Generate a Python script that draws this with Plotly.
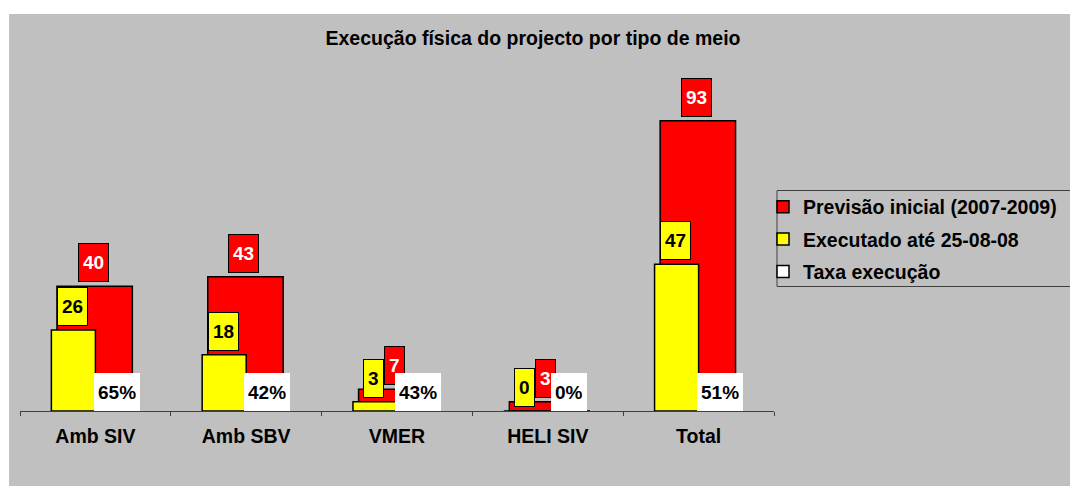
import plotly.graph_objects as go

# ---- data ----
categories = ["Amb SIV", "Amb SBV", "VMER", "HELI SIV", "Total"]
previsao = [40, 43, 7, 3, 93]          # Previsão inicial (2007-2009)
executado = [26, 18, 3, 0, 47]         # Executado até 25-08-08
taxa = [0.65, 0.42, 0.43, 0.0, 0.51]   # Taxa execução

series_names = ["Previsão inicial (2007-2009)", "Executado até 25-08-08", "Taxa execução"]
title_text = "Execução física do projecto por tipo de meio"

# ---- layout geometry (page pixels) ----
W, H = 1070, 486
L, R, T, B = 20, 296, 99, 75
plot_w = W - L - R
plot_h = H - T - B
cat_px = plot_w / len(categories)
FONT = "Liberation Sans, Arial, sans-serif"
FS = 19.5
RED, YEL, GRAY = "#FF0000", "#FFFF00", "#C0C0C0"

def px_x(p):
    return (p - L) / plot_w

def px_y(p):
    return (H - B - p) / plot_h

red_off, red_w = -0.255, 0.50
yel_off, yel_w = -0.292, 0.292
wht_off, wht_w = 0.0, 0.28

fig = go.Figure()
fig.add_trace(go.Bar(
    x=categories, y=previsao, name=series_names[0],
    offset=red_off, width=red_w,
    marker=dict(color=RED, line=dict(color="black", width=1.5)),
    legendgroup="a",
))
fig.add_trace(go.Bar(
    x=categories, y=executado, name=series_names[1],
    offset=yel_off, width=yel_w,
    marker=dict(color=YEL, line=dict(color="black", width=1.5)),
    legendgroup="b",
))
fig.add_trace(go.Bar(
    x=categories, y=taxa, name=series_names[2],
    offset=wht_off, width=wht_w,
    marker=dict(color="white", line=dict(color="black", width=1.5)),
    legendgroup="c",
))

annotations = []
lab_font = dict(family=FONT, size=19, weight="bold")
for c, v in zip(categories, previsao):
    annotations.append(dict(
        x=c, y=v, xref="x", yref="y", text=str(v), showarrow=False,
        xanchor="center", yanchor="bottom",
        xshift=(red_off + red_w / 2) * cat_px - 1.5, yshift=4,
        bgcolor=RED, bordercolor="black", borderwidth=1, borderpad=4, height=29,
        font=dict(lab_font, color="white"),
    ))
for c, v in zip(categories, executado):
    annotations.append(dict(
        x=c, y=v, xref="x", yref="y", text=str(v), showarrow=False,
        xanchor="center", yanchor="bottom",
        xshift=(yel_off + yel_w / 2) * cat_px - 1, yshift=4,
        bgcolor=YEL, bordercolor="black", borderwidth=1, borderpad=4, height=29,
        font=dict(lab_font, color="black"),
    ))
for c, t in zip(categories, taxa):
    annotations.append(dict(
        x=c, y=0, xref="x", yref="y", text=f"{round(t * 100)}%", showarrow=False,
        xanchor="center", yanchor="bottom",
        xshift=(wht_off + wht_w / 2) * cat_px, yshift=0,
        bgcolor="white", borderwidth=0, borderpad=4, height=30,
        font=dict(lab_font, color="black"),
    ))

shapes = [
    # gray chart area
    dict(type="rect", xref="paper", yref="paper", layer="below",
         x0=px_x(9), x1=px_x(1090), y0=px_y(500), y1=px_y(14),
         fillcolor=GRAY, line=dict(width=0)),
    # legend frame
    dict(type="rect", xref="paper", yref="paper",
         x0=px_x(777), x1=px_x(1085), y0=px_y(286.5), y1=px_y(190.5),
         fillcolor="rgba(0,0,0,0)", line=dict(color="#404040", width=1)),
]

fig.update_layout(
    width=W, height=H,
    margin=dict(l=L, r=R, t=T, b=B, autoexpand=False),
    paper_bgcolor="white", plot_bgcolor="rgba(0,0,0,0)",
    barmode="overlay",
    font=dict(family=FONT, size=FS, color="black"),
    title=dict(text=title_text, x=533 / W, xref="container", xanchor="center",
               y=1 - 38.5 / H, yref="container", yanchor="middle",
               font=dict(family=FONT, size=FS, weight="bold", color="black")),
    showlegend=True,
    legend=dict(x=px_x(763), y=px_y(187.5), xanchor="left", yanchor="top",
                bgcolor="rgba(0,0,0,0)", borderwidth=0,
                font=dict(family=FONT, size=FS, weight="bold", color="black"),
                traceorder="grouped", tracegroupgap=4),
    xaxis=dict(type="category", range=[-0.5, len(categories) - 0.5],
               showline=True, linecolor="#404040", linewidth=1,
               ticks="outside", tickson="boundaries", ticklen=4, tickcolor="#404040",
               ticklabelstandoff=8,
               tickfont=dict(family=FONT, size=FS, weight="bold", color="black"),
               showgrid=False, zeroline=False, fixedrange=True),
    yaxis=dict(range=[0, 100], visible=False, showgrid=False, zeroline=False,
               fixedrange=True),
    annotations=annotations,
    shapes=shapes,
)

fig.write_html(
    "out.html",
    config={"displayModeBar": False},
    post_script="document.body.style.margin='0';document.body.style.overflow='hidden';",
)
